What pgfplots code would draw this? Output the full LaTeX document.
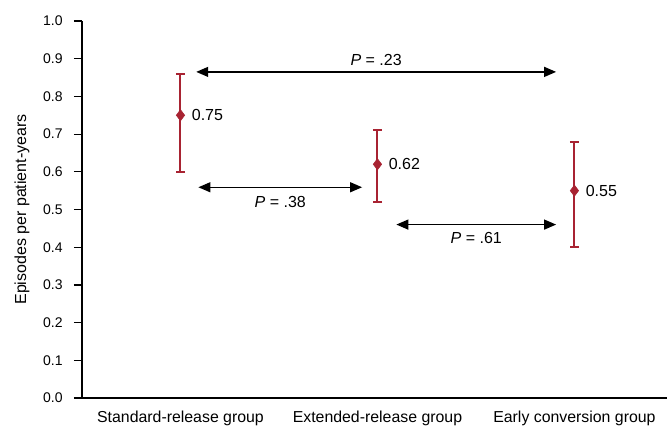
\documentclass[border=0pt]{standalone}
\usepackage{fontspec}
\setmainfont{Liberation Sans}
\usepackage{pgfplots}
\pgfplotsset{compat=1.18}
\usetikzlibrary{arrows.meta}
\definecolor{darkred}{RGB}{168,35,50}
\pgfplotstableread{
x y ep em
0 0.75 0.11 0.15
1 0.62 0.09 0.10
2 0.55 0.13 0.15
}\rates
\begin{document}
\begin{tikzpicture}
\begin{axis}[
  at={(0,0)}, anchor=south west,
  scale only axis, width=438.75pt, height=282.75pt,
  xmin=-0.5, xmax=2.47, ymin=0, ymax=1,
  axis lines*=left,
  axis line style={line width=0.9pt},
  tick align=outside,
  major tick length=6pt,
  minor tick length=5.25pt,
  tick style={black, line width=0.9pt},
  ytick={0,0.1,0.2,0.3,0.4,0.5,0.6,0.7,0.8,0.9,1.0},
  yticklabel style={font=\fontsize{10.5}{12}\selectfont, xshift=-5pt, /pgf/number format/.cd, fixed, fixed zerofill, precision=1, assume math mode=true},
  xtick={0,1,2},
  xticklabels={Standard-release group, Extended-release group, Early conversion group},
  xtick style={draw=none},
  minor xtick={-0.5,0.5,1.5},
  xticklabel style={font=\fontsize{11.9}{13}\selectfont},
  ylabel={Episodes per patient-years},
  ylabel style={font=\fontsize{12}{14}\selectfont, at={(axis description cs:-0.1026,0.5)}, anchor=center},
  clip=false,
]
\addplot[only marks, mark=diamond*, mark size=4.2pt, color=darkred,
  error bars/.cd, y dir=both, y explicit,
  error bar style={line width=1.5pt, darkred},
  error mark=-,
  error mark options={rotate=90, line width=1.5pt, mark size=3.5pt, darkred}]
  table[x=x, y=y, y error plus=ep, y error minus=em] {\rates};
\addplot[only marks, mark=none, draw=none,
  nodes near coords={\pgfmathprintnumber[fixed,fixed zerofill,precision=2,assume math mode=true]{\pgfplotspointmeta}},
  every node near coord/.append style={black, anchor=west, xshift=5pt, yshift=0pt, font=\fontsize{12}{14}\selectfont}]
  table[x=x, y=y] {\rates};
\draw[{Triangle[length=9pt,width=7.5pt]}-{Triangle[length=9pt,width=7.5pt]}, line width=1pt]
  (axis cs:0.08,0.865) -- (axis cs:1.907,0.865)
  node[midway, above=1pt, font=\fontsize{12}{14}\selectfont] {\textit{P} = .23};
\draw[{Triangle[length=9pt,width=7.5pt]}-{Triangle[length=9pt,width=7.5pt]}, line width=1pt]
  (axis cs:0.091,0.559) -- (axis cs:0.922,0.559)
  node[midway, below=3pt, font=\fontsize{12}{14}\selectfont] {\textit{P} = .38};
\draw[{Triangle[length=9pt,width=7.5pt]}-{Triangle[length=9pt,width=7.5pt]}, line width=1pt]
  (axis cs:1.096,0.46) -- (axis cs:1.907,0.46)
  node[midway, below=2pt, font=\fontsize{12}{14}\selectfont] {\textit{P} = .61};
\end{axis}
\pgfresetboundingbox
\path (-61.5pt,-21pt) rectangle (438.75pt,298.5pt);
\end{tikzpicture}
\end{document}
